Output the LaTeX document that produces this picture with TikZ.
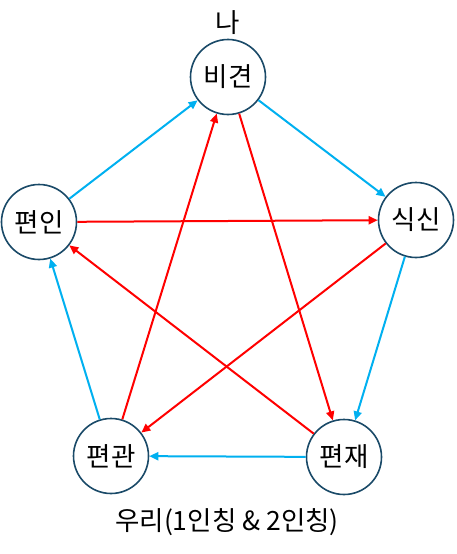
\documentclass[tikz,border=0pt]{standalone}
\usepackage{fontspec}
\setmainfont{Noto Sans CJK KR}
\usetikzlibrary{arrows.meta}
\definecolor{ringc}{HTML}{1A4A68}
\definecolor{cyanc}{HTML}{00B0F0}
\definecolor{redc}{HTML}{FF0000}
\tikzset{
  el/.style={circle,draw=ringc,line width=1.6pt,minimum size=75pt,inner sep=0pt,font=\fontsize{26.5}{30}\selectfont},
  lbl/.style={font=\fontsize{26.5}{30}\selectfont,inner sep=0pt},
  gen/.style={draw=cyanc,line width=2pt,-{Triangle[length=9pt,width=8pt]}},
  ctl/.style={draw=redc,line width=2pt,-{Triangle[length=9pt,width=8pt]}},
}
\begin{document}
\begin{tikzpicture}[x=1pt,y=-1pt]
\useasboundingbox (0,0) rectangle (456,554);
\node[el] (bg) at (228,77) {비견};
\node[el] (ss) at (416,220) {식신};
\node[el] (pj) at (344,457) {편재};
\node[el] (pg) at (111,456) {편관};
\node[el] (pi) at (39,222) {편인};
\node[lbl] (na) at (228,23) {나};
\node[lbl] (uri) at (227,522) {우리(1인칭 \& 2인칭)};
\draw[gen] (pi) -- (bg);
\draw[gen] (bg) -- (ss);
\draw[gen] (ss) -- (pj);
\draw[gen] (pj) -- (pg);
\draw[gen] (pg) -- (pi);
\draw[ctl] (pi) -- (ss);
\draw[ctl] (bg) -- (pj);
\draw[ctl] (ss) -- (pg);
\draw[ctl] (pj) -- (pi);
\draw[ctl] (pg) -- (bg);
\end{tikzpicture}
\end{document}
